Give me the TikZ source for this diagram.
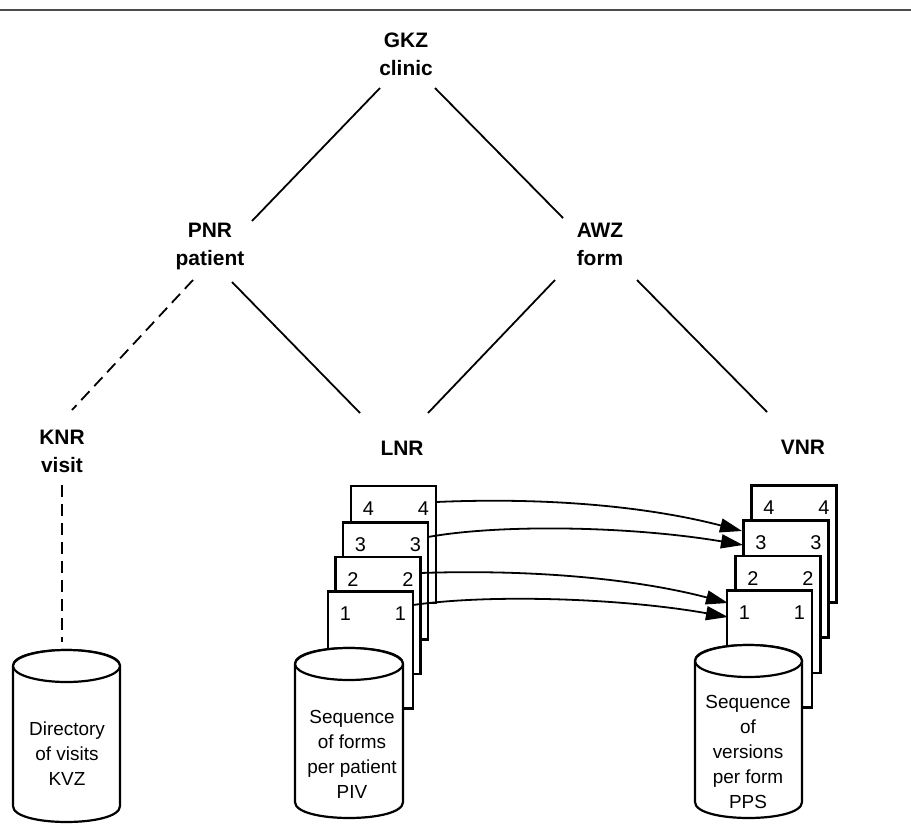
\documentclass[tikz,border=0pt]{standalone}
\usepackage{fontspec}
\setmainfont{Liberation Sans}
\usetikzlibrary{arrows.meta}
\newcommand\dbcyl[5]{%
  \filldraw[cyl] ({#1-#2},{#4}) -- ({#1-#2},{#3}) .. controls ({#1-#2},{#3-1.333*#5}) and ({#1+#2},{#3-1.333*#5}) .. ({#1+#2},{#3}) -- ({#1+#2},{#4}) .. controls ({#1+#2},{#4+1.333*#5}) and ({#1-#2},{#4+1.333*#5}) .. cycle;
  \draw[cyl] (#1,#3) ellipse [x radius=#2, y radius=#5];
}
\begin{document}
\begin{tikzpicture}[x=1bp,y=-1bp,
  lbl/.style={font=\fontsize{21}{28}\selectfont\bfseries, align=center, inner sep=0pt, anchor=north},
  dbtxt/.style={font=\fontsize{19}{25}\selectfont, align=center, inner sep=0pt, anchor=north},
  num/.style={font=\fontsize{20}{22}\selectfont, inner sep=0pt},
  sheet/.style={draw, fill=white, line width=2.2bp, minimum width=85bp, minimum height=117bp, inner sep=0pt},
  cyl/.style={line width=2.2bp, fill=white},
  tree/.style={line width=1.8bp},
  dashline/.style={line width=1.8bp, dash pattern=on 12bp off 7bp},
  arr/.style={line width=1.8bp, -{Triangle[length=22bp,width=14bp]}},
  rule/.style={line width=1.5bp, black!70}
]
\useasboundingbox (0,0) rectangle (911,833);

% top rule
\coordinate (ruleL) at (0,10);
\coordinate (ruleR) at (911,10);
\draw[rule] (ruleL) -- (ruleR);

% labels
\node[lbl] (gkz) at (406,33) {GKZ\\clinic};
\node[lbl] (pnr) at (210,223) {PNR\\patient};
\node[lbl] (awz) at (600,223) {AWZ\\form};
\node[lbl] (knr) at (62,430) {KNR\\visit};
\node[lbl] (lnr) at (402,441) {LNR};
\node[lbl] (vnr) at (803,440) {VNR};

% connector end points
\coordinate (gkzL) at (380,88);
\coordinate (gkzR) at (435,88);
\coordinate (pnrT) at (252,221);
\coordinate (awzT) at (563,218);
\coordinate (pnrBL) at (193,280);
\coordinate (pnrBR) at (232,282);
\coordinate (awzBL) at (555,280);
\coordinate (awzBR) at (637,280);
\coordinate (knrT) at (72,410);
\coordinate (lnrL) at (360,413);
\coordinate (lnrR) at (428,413);
\coordinate (vnrT) at (767,412);
\coordinate (knrB) at (62,485);
\coordinate (kvzT) at (62,642);

\draw[tree] (gkzL) -- (pnrT);
\draw[tree] (gkzR) -- (awzT);
\draw[tree] (pnrBR) -- (lnrL);
\draw[tree] (awzBL) -- (lnrR);
\draw[tree] (awzBR) -- (vnrT);
\draw[dashline] (pnrBL) -- (knrT);
\draw[dashline] (knrB) -- (kvzT);

% left database
\dbcyl{66.5}{53.5}{666}{806}{16}
\node[dbtxt] (kvz) at (67,722) {Directory\\of visits\\KVZ};

% middle stack of sheets
\node[sheet] (m4) at (393.5,544.5) {};
\node[num, xshift=-25bp, yshift=36bp] (m4l) at (m4) {4};
\node[num, xshift=30bp, yshift=36bp] (m4r) at (m4) {4};
\node[sheet] (m3) at (385.5,581) {};
\node[num, xshift=-25bp, yshift=36bp] (m3l) at (m3) {3};
\node[num, xshift=30bp, yshift=36bp] (m3r) at (m3) {3};
\node[sheet] (m2) at (378,615.5) {};
\node[num, xshift=-25bp, yshift=36bp] (m2l) at (m2) {2};
\node[num, xshift=30bp, yshift=36bp] (m2r) at (m2) {2};
\node[sheet] (m1) at (370.5,650) {};
\node[num, xshift=-25bp, yshift=36bp] (m1l) at (m1) {1};
\node[num, xshift=30bp, yshift=36bp] (m1r) at (m1) {1};

\dbcyl{349}{54}{664}{802}{16}
\node[dbtxt] (piv) at (352,710) {Sequence\\of forms\\per patient\\PIV};

% right stack of sheets
\node[sheet] (r4) at (794,544) {};
\node[num, xshift=-25bp, yshift=36bp] (r4l) at (r4) {4};
\node[num, xshift=30bp, yshift=36bp] (r4r) at (r4) {4};
\node[sheet] (r3) at (786,579) {};
\node[num, xshift=-25bp, yshift=36bp] (r3l) at (r3) {3};
\node[num, xshift=30bp, yshift=36bp] (r3r) at (r3) {3};
\node[sheet] (r2) at (778,614.5) {};
\node[num, xshift=-25bp, yshift=36bp] (r2l) at (r2) {2};
\node[num, xshift=30bp, yshift=36bp] (r2r) at (r2) {2};
\node[sheet] (r1) at (769.5,649) {};
\node[num, xshift=-25bp, yshift=36bp] (r1l) at (r1) {1};
\node[num, xshift=30bp, yshift=36bp] (r1r) at (r1) {1};

\dbcyl{748.5}{53.5}{661}{802}{16}
\node[dbtxt] (pps) at (748,695) {Sequence\\of\\versions\\per form\\PPS};

% arrows between stacks
\coordinate (a4s) at (436,502);
\coordinate (a4e) at (742,531);
\coordinate (a3s) at (428,537);
\coordinate (a3e) at (743,545);
\coordinate (a2s) at (420,573);
\coordinate (a2e) at (728,603);
\coordinate (a1s) at (413,605);
\coordinate (a1e) at (728,617);
\draw[arr] (a4s) .. controls (550,497) and (650,507) .. (a4e);
\draw[arr] (a3s) .. controls (500,524) and (630,526) .. (a3e);
\draw[arr] (a2s) .. controls (540,569) and (640,580) .. (a2e);
\draw[arr] (a1s) .. controls (490,594) and (620,598) .. (a1e);
\end{tikzpicture}
\end{document}
